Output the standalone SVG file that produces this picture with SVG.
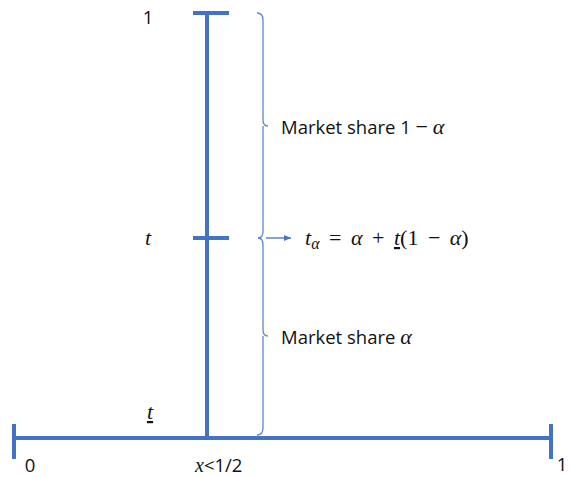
<svg xmlns="http://www.w3.org/2000/svg" width="572" height="477" viewBox="0 0 572 477">
<style>
.axis{stroke:#4472C4;stroke-width:4;fill:none}
.brace{stroke:#5B86D0;stroke-width:1.3;fill:none}
.lbl{font-family:"Open Sans","Liberation Sans",sans-serif;font-size:18.5px;fill:#111}
.math{font-family:"Liberation Serif","DejaVu Serif",serif;font-size:22px;fill:#111}
</style>
<defs>
<marker id="ah" markerWidth="8" markerHeight="8" refX="7" refY="4" orient="auto" markerUnits="userSpaceOnUse">
<path d="M0,1 L7,4 L0,7 z" fill="#4472C4"/>
</marker>
</defs>
<rect width="572" height="477" fill="#fff"/>
<g id="axes">
<line class="axis" x1="207" y1="13" x2="207" y2="438"/>
<line class="axis" x1="193" y1="13" x2="229" y2="13"/>
<line class="axis" x1="193" y1="238" x2="229" y2="238"/>
<line class="axis" x1="14" y1="438" x2="551" y2="438"/>
<line class="axis" x1="14" y1="424" x2="14" y2="459"/>
<line class="axis" x1="551" y1="424" x2="551" y2="459"/>
</g>
<g id="brace-upper">
<path class="brace" d="M257,13 Q263,13 263,20 L263,120 Q263,126 268,126 M263,126 Q263,126 263,132 L263,231 Q263,238 258,238"/>
</g>
<g id="brace-lower">
<path class="brace" d="M258,238 Q263,238 263,245 L263,330 Q263,336 268,336 M263,336 L263,428 Q263,435 257,435"/>
</g>
<g id="connectors">
<line x1="266" y1="238" x2="291" y2="238" stroke="#4472C4" stroke-width="1.3" marker-end="url(#ah)"/>
</g>
<g id="labels">
<text class="lbl" x="148" y="24" text-anchor="middle">1</text>
<text class="math" x="148" y="245" text-anchor="middle" font-style="italic">t</text>
<text class="math" x="150" y="419" text-anchor="middle" font-style="italic" text-decoration="underline">t</text>
<text class="lbl" x="30" y="472" text-anchor="middle">0</text>
<text x="195" y="472" class="lbl"><tspan font-family="Liberation Serif,serif" font-style="italic" font-size="20">x</tspan>&lt;1/2</text>
<text class="lbl" x="562" y="471" text-anchor="middle">1</text>
<text class="lbl" x="281" y="134">Market share 1 <tspan class="math" font-size="21">−</tspan> <tspan class="math" font-style="italic" font-size="21">α</tspan></text>
<text class="lbl" x="281" y="344">Market share <tspan class="math" font-style="italic" font-size="21">α</tspan></text>
<text class="math" x="305" y="245" word-spacing="4"><tspan font-style="italic">t</tspan><tspan font-style="italic" font-size="16" dy="4">α</tspan><tspan dy="-4"> = </tspan><tspan font-style="italic">α</tspan> + <tspan font-style="italic" text-decoration="underline">t</tspan>(1 − <tspan font-style="italic">α</tspan>)</text>
</g>
</svg>
